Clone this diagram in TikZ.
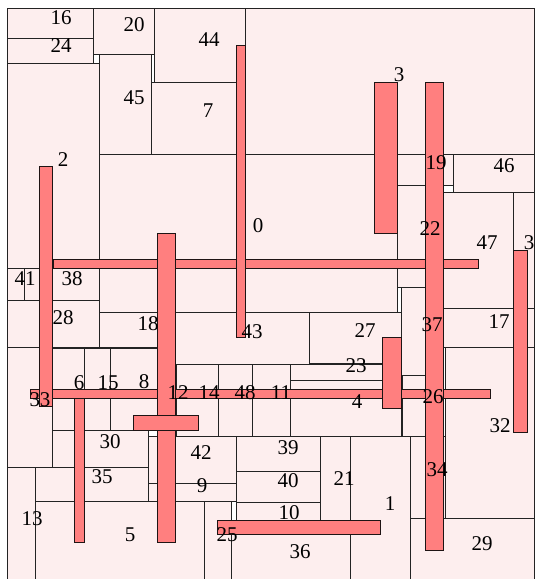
\documentclass[tikz,border=0pt]{standalone}
\usepackage{fontspec}
\setmainfont{Liberation Serif}
\definecolor{cellfill}{RGB}{253,238,238}
\definecolor{barfill}{RGB}{255,127,127}
\definecolor{celledge}{RGB}{35,35,35}
\definecolor{baredge}{RGB}{30,20,20}
\tikzset{
  cell/.style={draw=celledge, fill=cellfill, line width=1pt},
  redbar/.style={draw=baredge, fill=barfill, line width=1pt},
  lbl/.style={inner sep=0pt, font=\fontsize{21}{24}\selectfont, text=black}
}
\begin{document}
\begin{tikzpicture}[x=1pt,y=-1pt]
\useasboundingbox (0,0) rectangle (536,579);
\fill[white] (0,0) rectangle (536,579);
% cells
\draw[cell] (7,8) rectangle (93,38);
\draw[cell] (7,38) rectangle (93,63);
\draw[cell] (93,8) rectangle (154,54);
\draw[cell] (154,8) rectangle (245,82);
\draw[cell] (99,54) rectangle (151,154);
\draw[cell] (151,82) rectangle (245,154);
\draw[cell] (245,8) rectangle (534,154);
\draw[cell] (7,63) rectangle (99,268);
\draw[cell] (99,154) rectangle (397,312);
\draw[cell] (397,154) rectangle (453,185);
\draw[cell] (453,154) rectangle (534,192);
\draw[cell] (397,185) rectangle (443,287);
\draw[cell] (443,192) rectangle (513,308);
\draw[cell] (513,192) rectangle (534,308);
\draw[cell] (443,308) rectangle (534,347);
\draw[cell] (401,287) rectangle (443,375);
\draw[cell] (7,268) rectangle (24,300);
\draw[cell] (24,268) rectangle (39,300);
\draw[cell] (39,268) rectangle (99,300);
\draw[cell] (7,300) rectangle (39,347);
\draw[cell] (39,300) rectangle (99,347);
\draw[cell] (99,312) rectangle (157,347);
\draw[cell] (175,312) rectangle (309,364);
\draw[cell] (309,312) rectangle (401,363);
\draw[cell] (290,364) rectangle (382,380);
\draw[cell] (290,380) rectangle (401,436);
\draw[cell] (402,375) rectangle (443,436);
\draw[cell] (445,347) rectangle (534,518);
\draw[cell] (176,364) rectangle (218,436);
\draw[cell] (218,364) rectangle (252,436);
\draw[cell] (252,364) rectangle (290,436);
\draw[cell] (52,348) rectangle (84,430);
\draw[cell] (84,348) rectangle (110,430);
\draw[cell] (110,348) rectangle (157,430);
\draw[cell] (7,347) rectangle (52,467);
\draw[cell] (52,430) rectangle (148,467);
\draw[cell] (35,467) rectangle (148,501);
\draw[cell] (7,467) rectangle (35,581);
\draw[cell] (35,501) rectangle (204,581);
\draw[cell] (148,436) rectangle (236,483);
\draw[cell] (148,483) rectangle (236,501);
\draw[cell] (204,501) rectangle (231,581);
\draw[cell] (236,436) rectangle (320,471);
\draw[cell] (236,471) rectangle (320,502);
\draw[cell] (236,502) rectangle (320,520);
\draw[cell] (320,436) rectangle (350,520);
\draw[cell] (231,520) rectangle (350,581);
\draw[cell] (350,436) rectangle (410,581);
\draw[cell] (410,436) rectangle (445,518);
\draw[cell] (410,518) rectangle (534,581);
% red bars
\draw[redbar] (53,259) rectangle (478,268);
\draw[redbar] (30,389) rectangle (490,398);
\draw[redbar] (374,82) rectangle (397,233);
\draw[redbar] (425,82) rectangle (443,550);
\draw[redbar] (236,45) rectangle (245,337);
\draw[redbar] (39,166) rectangle (52,406);
\draw[redbar] (157,233) rectangle (175,542);
\draw[redbar] (74,398) rectangle (84,542);
\draw[redbar] (133,415) rectangle (198,430);
\draw[redbar] (217,520) rectangle (380,534);
\draw[redbar] (382,337) rectangle (401,408);
\draw[redbar] (513,250) rectangle (527,432);
% labels
\node[lbl] (l16) at (61,18) {16};
\node[lbl] (l24) at (61,46) {24};
\node[lbl] (l20) at (134,25) {20};
\node[lbl] (l44) at (209,40) {44};
\node[lbl] (l45) at (134,98) {45};
\node[lbl] (l7) at (208,111) {7};
\node[lbl] (l2) at (63,160) {2};
\node[lbl] (l3a) at (399,75) {3};
\node[lbl] (l19) at (436,163) {19};
\node[lbl] (l46) at (504,166) {46};
\node[lbl] (l0) at (258,226) {0};
\node[lbl] (l22) at (430,229) {22};
\node[lbl] (l47) at (487,243) {47};
\node[lbl] (l3b) at (529,243) {3};
\node[lbl] (l41) at (25,279) {41};
\node[lbl] (l38) at (72,279) {38};
\node[lbl] (l28) at (63,318) {28};
\node[lbl] (l18) at (148,324) {18};
\node[lbl] (l43) at (252,332) {43};
\node[lbl] (l27) at (365,331) {27};
\node[lbl] (l37) at (432,325) {37};
\node[lbl] (l17) at (499,322) {17};
\node[lbl] (l23) at (356,366) {23};
\node[lbl] (l6) at (79,383) {6};
\node[lbl] (l15) at (108,383) {15};
\node[lbl] (l8) at (144,382) {8};
\node[lbl] (l33) at (40,400) {33};
\node[lbl] (l12) at (178,393) {12};
\node[lbl] (l14) at (209,393) {14};
\node[lbl] (l48) at (245,393) {48};
\node[lbl] (l11) at (281,393) {11};
\node[lbl] (l4) at (357,402) {4};
\node[lbl] (l26) at (433,397) {26};
\node[lbl] (l32) at (500,426) {32};
\node[lbl] (l30) at (110,442) {30};
\node[lbl] (l42) at (201,453) {42};
\node[lbl] (l39) at (288,448) {39};
\node[lbl] (l34) at (437,470) {34};
\node[lbl] (l35) at (102,477) {35};
\node[lbl] (l40) at (288,481) {40};
\node[lbl] (l21) at (344,479) {21};
\node[lbl] (l9) at (202,486) {9};
\node[lbl] (l1) at (390,504) {1};
\node[lbl] (l10) at (289,513) {10};
\node[lbl] (l13) at (32,519) {13};
\node[lbl] (l5) at (130,535) {5};
\node[lbl] (l25) at (227,535) {25};
\node[lbl] (l36) at (300,552) {36};
\node[lbl] (l29) at (482,544) {29};
\end{tikzpicture}
\end{document}
